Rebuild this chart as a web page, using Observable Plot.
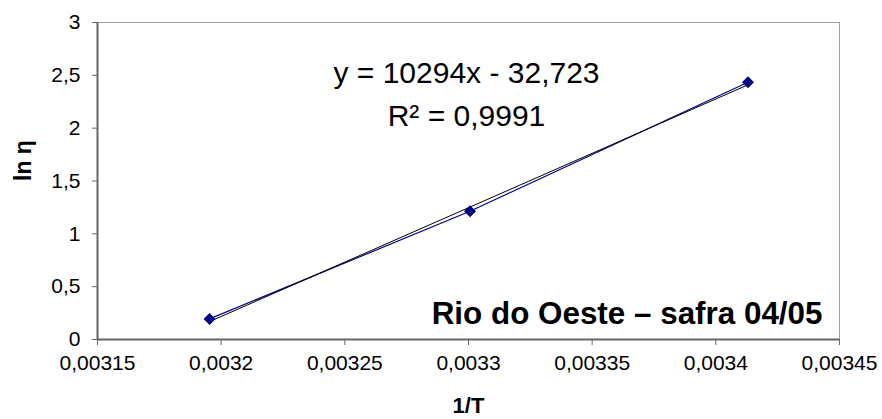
<!DOCTYPE html>
<html><head><meta charset="utf-8">
<script src="https://cdn.jsdelivr.net/npm/d3@7"></script>
<script src="https://cdn.jsdelivr.net/npm/@observablehq/plot@0.6"></script>
<style>body{margin:0;background:#fff}#chart svg{display:block}</style>
</head><body><div id="chart"></div>
<script>
const invT = [0.0031953, 0.0033006, 0.003413];
const lnEta = [0.195, 1.214, 2.435];
const xTicks = [0.00315, 0.0032, 0.00325, 0.0033, 0.00335, 0.0034, 0.00345];
const yTicks = [0, 0.5, 1, 1.5, 2, 2.5, 3];
const slope = 10294, intercept = -32.723, r2 = 0.9991;
const title = "Rio do Oeste – safra 04/05";
const xLabel = "1/T", yLabel = "ln η";

const comma = v => String(v).replace(".", ",");
const points = invT.map((x, i) => ({x, y: lnEta[i]}));
const trend = [d3.min(invT), d3.max(invT)].map(x => ({x, y: slope * x + intercept}));
const eqText = `y = ${comma(slope)}x - ${comma(-intercept)}`;
const r2Text = `R² = ${comma(r2)}`;

const chart = Plot.plot({
  width: 882, height: 419,
  marginLeft: 97, marginRight: 43, marginTop: 22, marginBottom: 80,
  style: {fontFamily: "'Liberation Sans', Arial, sans-serif", background: "#fff", color: "#000"},
  x: {domain: [0.00315, 0.00345]},
  y: {domain: [0, 3]},
  marks: [
    Plot.ruleY([3], {stroke: "#a0a0a0", strokeWidth: 1}),
    Plot.ruleX([0.00345], {stroke: "#a0a0a0", strokeWidth: 1}),
    Plot.axisX({ticks: xTicks, tickFormat: comma, tickSize: 6, tickPadding: 10, fontSize: 21, label: null, stroke: "#666", fill: "#000"}),
    Plot.axisY({ticks: yTicks, tickFormat: comma, tickSize: 5, tickPadding: 12, fontSize: 21, label: null, stroke: "#666", fill: "#000"}),
    Plot.ruleX([0.00315], {stroke: "#666", strokeWidth: 2}),
    Plot.ruleY([0], {stroke: "#666", strokeWidth: 2}),
    Plot.line(points, {x: "x", y: "y", stroke: "#00008b", strokeWidth: 1.2}),
    Plot.line(trend, {x: "x", y: "y", stroke: "#000", strokeWidth: 1}),
    Plot.dot(points, {x: "x", y: "y", symbol: "diamond2", r: 5.4, fill: "#000080", stroke: "none"}),
    Plot.text([eqText], {frameAnchor: "top", dy: 60, dx: -2, lineAnchor: "bottom", fontSize: 30, fill: "#000"}),
    Plot.text([r2Text], {frameAnchor: "top", dy: 103, dx: -2, lineAnchor: "bottom", fontSize: 30, fill: "#000"}),
    Plot.text([title], {frameAnchor: "bottom-right", dx: -17, dy: -16, textAnchor: "end", lineAnchor: "bottom", fontSize: 31.4, fontWeight: "bold", fill: "#000"}),
    Plot.text([xLabel], {frameAnchor: "bottom", dy: 66, lineAnchor: "middle", fontSize: 22, fontWeight: "bold", fill: "#000"}),
    Plot.text([yLabel], {frameAnchor: "left", dx: -74, rotate: -90, lineAnchor: "middle", fontSize: 23, fontWeight: "bold", fill: "#000"})
  ]
});
document.getElementById("chart").append(chart);
</script>
</body></html>
